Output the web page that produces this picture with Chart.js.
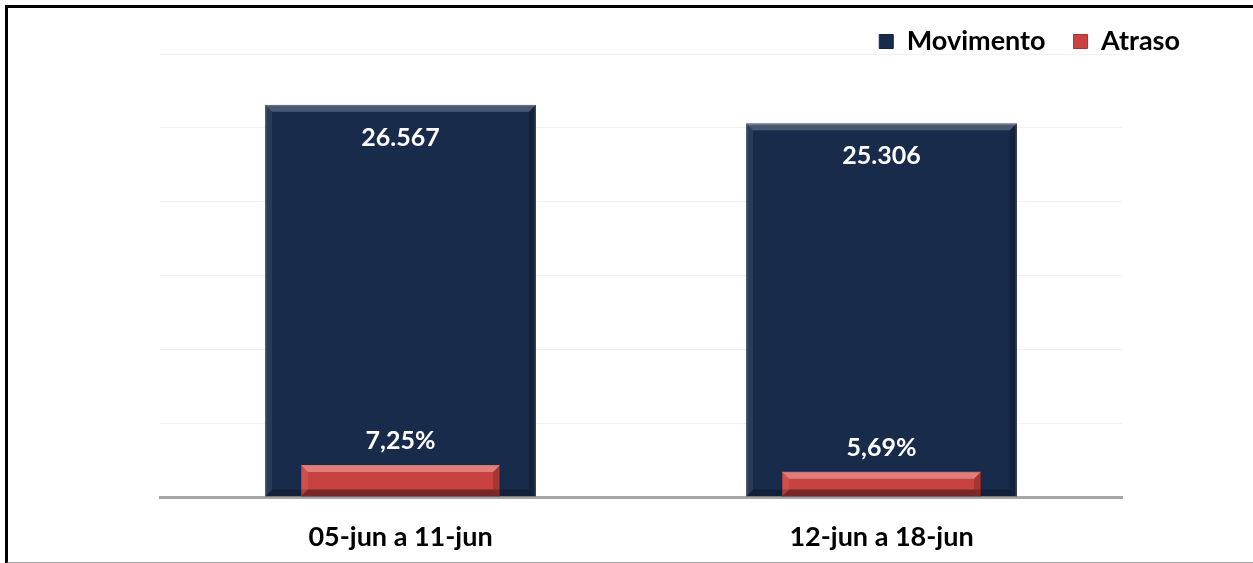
<!DOCTYPE html>
<html>
<head>
<meta charset="utf-8">
<script src="https://cdn.jsdelivr.net/npm/chart.js@4.4.1/dist/chart.umd.min.js"></script>
<style>
  body { margin: 0; background: #fff; }
  #wrap { position: relative; width: 1253px; height: 563px; overflow: hidden; }
  #frame { position: absolute; left: 5px; top: 5px; width: 1300px; height: 554px;
           border-left: 3px solid #000; border-top: 3px solid #000; border-bottom: 2px solid #a6a6a6;
           pointer-events: none; }
</style>
</head>
<body>
<div id="wrap">
  <canvas id="chart" width="1253" height="563"></canvas>
  <div id="frame"></div>
</div>
<script>
const categories = ['05-jun a 11-jun', '12-jun a 18-jun'];
const movimento = [26567, 25306];
const atraso = [7.25, 5.69];

const fmtNum = v => v.toLocaleString('pt-BR');
const fmtPct = v => v.toFixed(2).replace('.', ',') + '%';

// bevel look like the excel bars
const bevelPlugin = {
  id: 'bevel',
  afterDatasetsDraw(chart) {
    const c = chart.ctx;
    chart.data.datasets.forEach((ds, i) => {
      const meta = chart.getDatasetMeta(i);
      meta.data.forEach(bar => {
        const l = bar.x - bar.width / 2, r = bar.x + bar.width / 2;
        const t = bar.y, b = bar.base, e = 7;
        c.save();
        // top
        c.fillStyle = i === 0 ? 'rgba(255,255,255,0.22)' : 'rgba(255,200,200,0.45)';
        c.beginPath(); c.moveTo(l, t); c.lineTo(r, t); c.lineTo(r - e, t + e); c.lineTo(l + e, t + e); c.fill();
        // left
        c.fillStyle = 'rgba(255,255,255,0.08)';
        c.beginPath(); c.moveTo(l, t); c.lineTo(l + e, t + e); c.lineTo(l + e, b - e); c.lineTo(l, b); c.fill();
        // right
        c.fillStyle = 'rgba(0,0,0,0.18)';
        c.beginPath(); c.moveTo(r, t); c.lineTo(r - e, t + e); c.lineTo(r - e, b - e); c.lineTo(r, b); c.fill();
        // bottom
        c.fillStyle = 'rgba(0,0,0,0.22)';
        c.beginPath(); c.moveTo(l, b); c.lineTo(l + e, b - e); c.lineTo(r - e, b - e); c.lineTo(r, b); c.fill();
        c.restore();
      });
    });
  }
};

const labelPlugin = {
  id: 'valueLabels',
  afterDatasetsDraw(chart) {
    const c = chart.ctx;
    c.save();
    c.fillStyle = '#ffffff';
    c.font = 'bold 25px Lato';
    c.textAlign = 'center';
    c.textBaseline = 'middle';
    chart.getDatasetMeta(0).data.forEach((bar, j) => {
      c.fillText(fmtNum(movimento[j]), bar.x, bar.y + 33);
    });
    chart.getDatasetMeta(1).data.forEach((bar, j) => {
      c.fillText(fmtPct(atraso[j]), bar.x, bar.y - 24);
    });
    c.restore();
  }
};

// less space under the legend
const legendGap = {
  id: 'legendGap',
  beforeInit(chart) {
    const fit = chart.legend.fit;
    chart.legend.fit = function () {
      fit.bind(chart.legend)();
      this.height -= 11;
    };
  }
};

const ctx = document.getElementById('chart').getContext('2d');
const chart = new Chart(ctx, {
  type: 'bar',
  data: {
    labels: categories,
    datasets: [{
      label: 'Movimento',
      data: movimento,
      yAxisID: 'y',
      backgroundColor: '#182b4a',
      borderColor: '#14233d',
      borderWidth: 1,
      barPercentage: 1,
      categoryPercentage: 0.563,
      order: 2
    }, {
      label: 'Atraso',
      data: atraso,
      yAxisID: 'y1',
      backgroundColor: '#c8423f',
      borderColor: '#a83432',
      borderWidth: 1,
      barPercentage: 1,
      categoryPercentage: 0.414,
      order: 1
    }]
  },
  options: {
    responsive: false,
    animation: false,
    grouped: false,
    layout: { padding: { left: 160, right: 45, top: 0, bottom: 0 } },
    plugins: {
      legend: {
        position: 'top',
        align: 'end',
        labels: {
          color: '#000',
          font: { family: 'Lato', size: 27, weight: 'bold' },
          boxWidth: 14,
          boxHeight: 14,
          padding: 28,
          sort: (a, b) => a.datasetIndex - b.datasetIndex
        }
      },
      tooltip: { enabled: false }
    },
    scales: {
      x: {
        grid: { display: false },
        border: { color: '#a6a6a6', width: 3 },
        ticks: { color: '#000', padding: 16, font: { family: 'Lato', size: 27, weight: 'bold' } },
        afterFit: s => { s.height = 66; }
      },
      y: {
        min: 0, max: 30000,
        ticks: { display: false, stepSize: 5000 },
        grid: { color: '#f2f2f2', drawTicks: false },
        border: { display: false }
      },
      y1: {
        position: 'right',
        min: 0, max: 100,
        ticks: { display: false },
        grid: { drawOnChartArea: false, drawTicks: false },
        border: { display: false },
        afterFit: s => { s.width = 86; }
      }
    }
  },
  plugins: [bevelPlugin, labelPlugin, legendGap]
});
</script>
</body>
</html>
